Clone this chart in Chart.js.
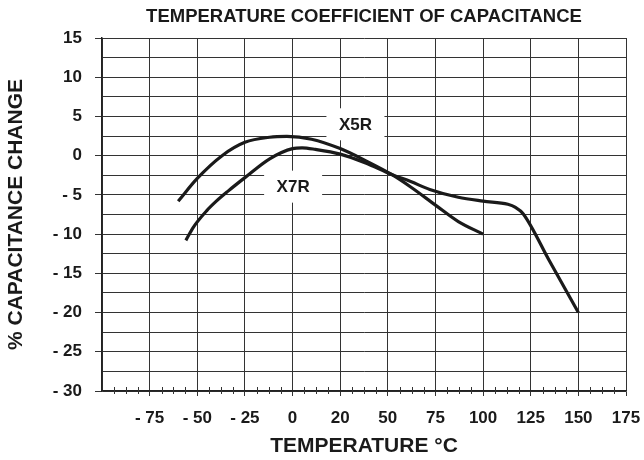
<!DOCTYPE html>
<html>
<head>
<meta charset="utf-8">
<title>Temperature Coefficient of Capacitance</title>
<script src="https://cdn.jsdelivr.net/npm/chart.js@4.4.1/dist/chart.umd.min.js"></script>
<style>
  html, body { margin: 0; padding: 0; background: #fff; }
  #wrap { width: 644px; height: 460px; }
</style>
</head>
<body>
<div id="wrap"><canvas id="tccChart"></canvas></div>
<script>
// curve readings (temperature in °C, capacitance change in %)
const x5rTemp = [-60, -50, -37, -25, -12, -3, 10, 25, 38, 52, 62, 75, 87, 100];
const x5rCap  = [-5.8, -2.9, 0, 1.7, 2.35, 2.45, 2.1, 0.9, -0.6, -2.4, -4.0, -6.3, -8.4, -10];

const x7rTemp = [-56, -52, -45, -40, -34, -25, -12, 0, 5, 12, 25, 38, 52, 62, 72, 87, 100, 113, 117, 121, 135, 150];
const x7rCap  = [-10.8, -9.1, -7.0, -5.8, -4.55, -2.8, -0.4, 0.9, 1.0, 0.8, 0.2, -0.9, -2.4, -3.3, -4.3, -5.3, -5.8, -6.2, -6.6, -7.4, -13.5, -20];

// axis grid values and their printed labels ('' = unlabelled line)
const xGridValues = [-100, -75, -50, -25, 0, 25, 50, 75, 100, 125, 150, 175];
const xTickLabels = ['', '- 75', '- 50', '- 25', '0', '20', '50', '75', '100', '125', '150', '175'];
const yGridValues = [-30, -27.5, -25, -22.5, -20, -17.5, -15, -12.5, -10, -7.5, -5, -2.5, 0, 2.5, 5, 7.5, 10, 12.5, 15];
const yTickLabels = ['- 30', '', '- 25', '', '- 20', '', '- 15', '', '- 10', '', '- 5', '', '0', '', '5', '', '10', '', '15'];

const curveLabels = [
    { text: 'X5R', x: 33, y: 4.0 },
    { text: 'X7R', x: 0.3, y: -3.95 }
];

const FONT = '"Liberation Sans", Arial, Helvetica, sans-serif';
const INK = '#1a1a1a';
const GRID = '#333';

function toPoints(xs, ys) {
    return xs.map((t, i) => ({ x: t, y: ys[i] }));
}

// white boxes with the curve names, drawn over the grid
const labelBoxes = {
    id: 'labelBoxes',
    beforeDatasetsDraw(chart) {
        const { ctx, scales: { x, y } } = chart;
        ctx.save();
        ctx.font = 'bold 17px ' + FONT;
        ctx.textAlign = 'center';
        ctx.textBaseline = 'middle';
        curveLabels.forEach(l => {
            const px = x.getPixelForValue(l.x);
            const py = y.getPixelForValue(l.y);
            ctx.fillStyle = '#fff';
            ctx.fillRect(px - 29, py - 16, 58, 32);
            ctx.fillStyle = INK;
            ctx.fillText(l.text, px, py + 1);
        });
        ctx.restore();
    }
};

// small ticks crossing the bottom axis, three between each grid line
const minorTicks = {
    id: 'minorTicks',
    afterDraw(chart) {
        const { ctx, chartArea, scales: { x } } = chart;
        ctx.save();
        ctx.strokeStyle = GRID;
        ctx.lineWidth = 1;
        ctx.beginPath();
        for (let i = 0; i < xGridValues.length - 1; i++) {
            const a = xGridValues[i], b = xGridValues[i + 1];
            for (let k = 1; k < 4; k++) {
                const px = Math.round(x.getPixelForValue(a + (b - a) * k / 4)) + 0.5;
                ctx.moveTo(px, chartArea.bottom - 4);
                ctx.lineTo(px, chartArea.bottom + 3);
            }
        }
        ctx.stroke();
        ctx.restore();
    }
};

new Chart(document.getElementById('tccChart'), {
    type: 'line',
    data: {
        datasets: [
            {
                label: 'X5R',
                data: toPoints(x5rTemp, x5rCap),
                borderColor: INK,
                borderWidth: 3.2,
                pointRadius: 0,
                cubicInterpolationMode: 'monotone',
                fill: false
            },
            {
                label: 'X7R',
                data: toPoints(x7rTemp, x7rCap),
                borderColor: INK,
                borderWidth: 3.2,
                pointRadius: 0,
                cubicInterpolationMode: 'monotone',
                fill: false
            }
        ]
    },
    options: {
        responsive: true,
        maintainAspectRatio: false,
        animation: false,
        layout: { padding: { top: 0, right: 18, bottom: 0, left: 0 } },
        plugins: {
            legend: { display: false },
            tooltip: { enabled: false },
            title: {
                display: true,
                fullSize: false,
                text: 'TEMPERATURE COEFFICIENT OF CAPACITANCE',
                color: INK,
                font: { family: FONT, size: 18.5, weight: 'bold' },
                padding: { top: 6, bottom: 9.8 }
            }
        },
        scales: {
            x: {
                type: 'linear',
                min: -100,
                max: 175,
                afterBuildTicks: s => { s.ticks = xGridValues.map(v => ({ value: v })); },
                afterFit: s => { s.height = 69; s.paddingLeft = 0; s.paddingRight = 0; },
                grid: {
                    color: GRID,
                    lineWidth: 1,
                    tickLength: 5,
                    tickColor: c => (c.tick && xTickLabels[xGridValues.indexOf(c.tick.value)]) ? GRID : 'rgba(0,0,0,0)'
                },
                border: { color: '#222', width: 1.5 },
                ticks: {
                    autoSkip: false,
                    maxRotation: 0,
                    padding: 12,
                    color: INK,
                    font: { family: FONT, size: 17, weight: 'bold' },
                    callback: v => {
                        const i = xGridValues.indexOf(v);
                        return i < 0 ? '' : xTickLabels[i];
                    }
                },
                title: {
                    display: true,
                    text: 'TEMPERATURE °C',
                    color: INK,
                    font: { family: FONT, size: 21, weight: 'bold' },
                    padding: { top: 0, bottom: 1 }
                }
            },
            y: {
                type: 'linear',
                min: -30,
                max: 15,
                afterBuildTicks: s => { s.ticks = yGridValues.map(v => ({ value: v })); },
                afterFit: s => { s.width = 102; },
                grid: {
                    color: GRID,
                    lineWidth: 1,
                    tickLength: 7,
                    tickColor: c => (c.tick && yTickLabels[yGridValues.indexOf(c.tick.value)]) ? GRID : 'rgba(0,0,0,0)'
                },
                border: { color: '#222', width: 1.5 },
                ticks: {
                    autoSkip: false,
                    padding: 13,
                    color: INK,
                    font: { family: FONT, size: 17, weight: 'bold' },
                    callback: v => {
                        const i = yGridValues.indexOf(v);
                        return i < 0 ? '' : yTickLabels[i];
                    }
                },
                title: {
                    display: true,
                    text: '% CAPACITANCE CHANGE',
                    color: INK,
                    font: { family: FONT, size: 21, weight: 'bold' },
                    padding: { top: 4, bottom: 0 }
                }
            }
        }
    },
    plugins: [labelBoxes, minorTicks]
});
</script>
</body>
</html>
